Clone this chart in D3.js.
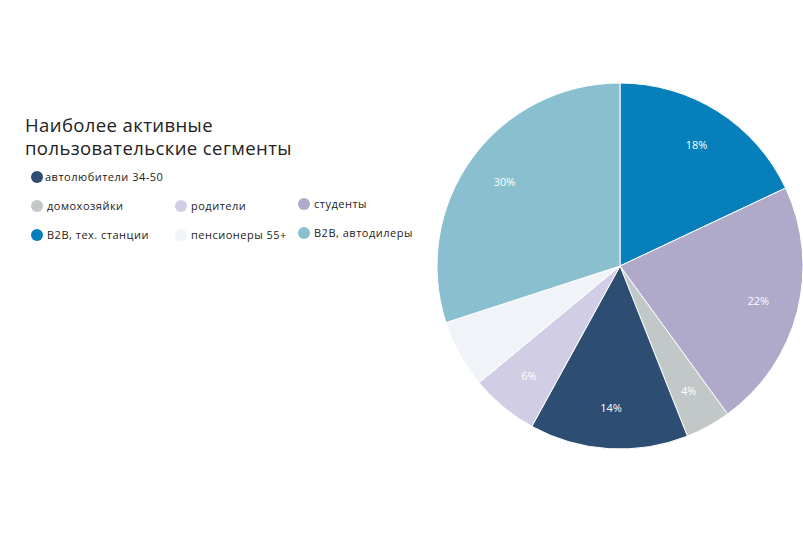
<!DOCTYPE html>
<html><head><meta charset="utf-8">
<script src="https://cdn.jsdelivr.net/npm/d3@7"></script>
<style>body{margin:0;background:#fff}svg{display:block}</style>
</head><body>
<svg id="c" width="803" height="535"></svg>
<script>
const categories = ["B2B, тех. станции","студенты","домохозяйки","автолюбители 34-50","родители","пенсионеры 55+","B2B, автодилеры"];
const values = [18,22,4,14,6,6,30];
const showLabel = [true,true,true,true,true,false,true];
const colors = ["#067FBB","#AFA9CA","#C2C7C8","#2D4E72","#D1CDE5","#F0F3F8","#89BFCE"];
const title = ["Наиболее активные","пользовательские сегменты"];
// legend order as shown
const legendRows = [["автолюбители 34-50"],["домохозяйки","родители","студенты"],["B2B, тех. станции","пенсионеры 55+","B2B, автодилеры"]];

const svg = d3.select("#c");
const font = "'Open Sans', 'Noto Sans', sans-serif";
const cx = 620, cy = 266, R = 183;
const color = d3.scaleOrdinal().domain(categories).range(colors);
const pie = d3.pie().sort(null).value(d=>d.v);
const data = categories.map((c,i)=>({c, v:values[i], show:showLabel[i]}));
const arcs = pie(data);
const arc = d3.arc().innerRadius(0).outerRadius(R);
const labelArc = d3.arc().innerRadius(R*0.78).outerRadius(R*0.78);
const g = svg.append("g").attr("transform",`translate(${cx},${cy})`);
g.selectAll("path").data(arcs).join("path")
  .attr("d",arc).attr("fill",d=>color(d.data.c))
  .attr("stroke","#fff").attr("stroke-width",1);
g.selectAll("text").data(arcs.filter(d=>d.data.show)).join("text")
  .attr("transform",d=>`translate(${labelArc.centroid(d)})`)
  .attr("text-anchor","middle").attr("dy","0.35em")
  .attr("fill","#fff").attr("font-family",font).attr("font-size",11)
  .text(d=>d.data.v+"%");

svg.append("text").attr("x",25).attr("y",132).attr("font-family",font)
  .attr("font-size",18.5).attr("letter-spacing",0.4).attr("fill","#222")
  .selectAll("tspan").data(title).join("tspan")
  .attr("x",25).attr("dy",(d,i)=>i?23:0).text(d=>d);

const colX = [37,181,304], rowY = [177,206,235];
legendRows.forEach((row,ri)=>{
  row.forEach((name,ci)=>{
    const x = colX[ci], y = rowY[ri] - (ci===2?2:0);
    svg.append("circle").attr("cx",x).attr("cy",y).attr("r",6).attr("fill",color(name));
    svg.append("text").attr("x",x+(ri===0?8:10)).attr("y",y+4)
      .attr("font-family",font).attr("font-size",11).attr("letter-spacing",0.5)
      .attr("fill","#222").text(name);
  });
});
</script>
</body></html>
